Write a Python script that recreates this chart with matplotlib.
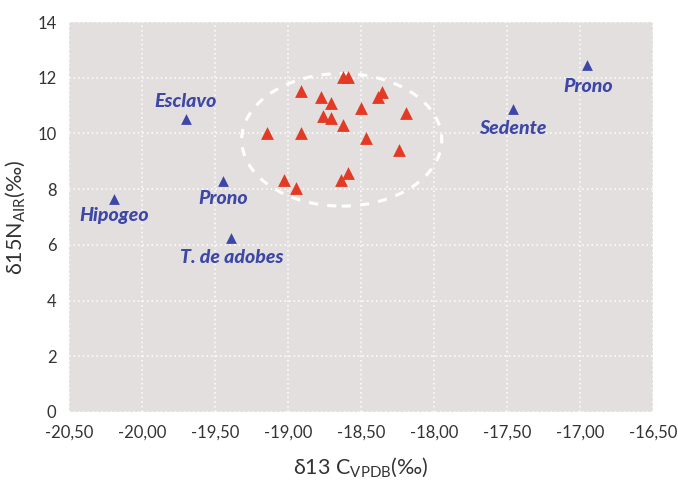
import matplotlib
matplotlib.use("Agg")
import matplotlib.pyplot as plt
from matplotlib.patches import Ellipse

# Data
blue_x = [-20.19, -19.70, -19.445, -19.39, -17.46, -16.95]
blue_y = [7.65, 10.52, 8.29, 6.25, 10.88, 12.45]
blue_labels = ["Hipogeo", "Esclavo", "Prono", "T. de adobes", "Sedente", "Prono"]
label_x = [-20.19, -19.70, -19.445, -19.385, -17.46, -16.945]
label_y = [7.04, 11.16, 7.65, 5.53, 10.19, 11.70]

red_x = [-18.62, -18.59, -18.909, -18.776, -18.703, -18.358, -18.386, -18.192,
         -18.502, -18.762, -18.703, -18.621, -19.142, -18.909, -18.466, -18.238,
         -18.589, -18.639, -19.027, -18.945]
red_y = [12.01, 12.01, 11.53, 11.29, 11.08, 11.49, 11.29, 10.74,
         10.92, 10.62, 10.55, 10.29, 10.03, 10.03, 9.83, 9.40,
         8.57, 8.33, 8.33, 8.03]

ellipse_center = (-18.632, 9.77)
ellipse_size = (1.37, 4.76)

x_ticks = [-20.5, -20.0, -19.5, -19.0, -18.5, -18.0, -17.5, -17.0, -16.5]
x_tick_labels = ["-20,50", "-20,00", "-19,50", "-19,00", "-18,50", "-18,00",
                 "-17,50", "-17,00", "-16,50"]
y_ticks = [0, 2, 4, 6, 8, 10, 12, 14]

plt.rcParams['font.family'] = ['Lato', 'DejaVu Sans']
fig = plt.figure(figsize=(6.78, 4.87), dpi=100)
ax = fig.add_axes([69/678, 1 - 412/487, (653 - 69)/678, (412 - 22)/487])
ax.set_facecolor('#e3dfdf')
for s in ax.spines.values():
    s.set_visible(False)

ax.set_xlim(-20.5, -16.5)
ax.set_ylim(0, 14)
ax.set_xticks(x_ticks)
ax.set_xticklabels(x_tick_labels)
ax.set_yticks(y_ticks)
ax.tick_params(length=0, labelsize=12, colors='#333333', pad=9)
ax.grid(True, color='white', linestyle=(0, (1, 2)), linewidth=1.1)
ax.set_axisbelow(True)

ell = Ellipse(ellipse_center, ellipse_size[0], ellipse_size[1], fill=False,
              edgecolor='white', linestyle=(0, (3, 3)), linewidth=2.2, zorder=2)
ax.add_patch(ell)

ax.scatter(red_x, red_y, marker='^', s=85, color='#e23a24', zorder=3, linewidths=0)
ax.scatter(blue_x, blue_y, marker='^', s=60, color='#3d47a8', zorder=3, linewidths=0)
for lx, ly, t in zip(label_x, label_y, blue_labels):
    ax.text(lx, ly, t, ha='center', va='center', color='#3d47a8',
            fontsize=14, fontweight='black', fontstyle='italic', zorder=4)

ax.set_xlabel(r'δ13 C$_{\mathregular{VPDB}}$(‰)', fontsize=15.5, color='#333333', labelpad=11)
ax.set_ylabel(r'δ15N$_{\mathregular{AIR}}$(‰)', fontsize=15.5, color='#333333', labelpad=7)

fig.savefig('out.png', dpi=100, facecolor='white')
